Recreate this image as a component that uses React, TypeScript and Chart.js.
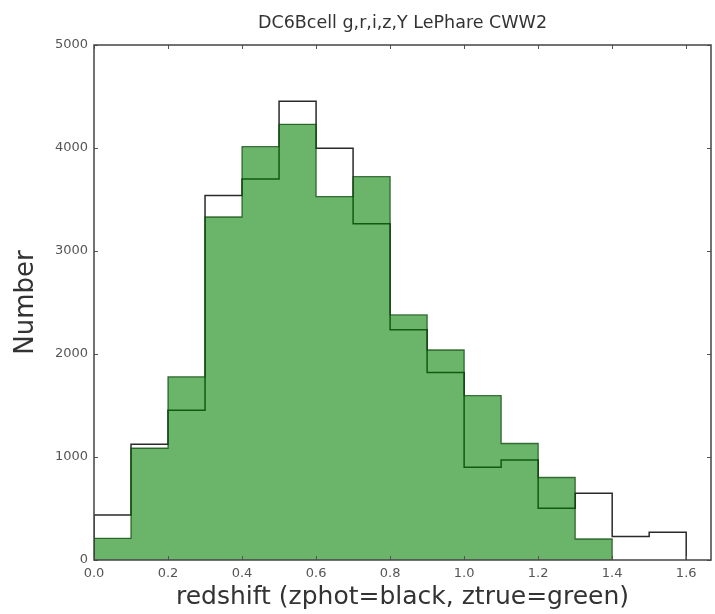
import { useEffect, useRef } from "react";
import { Chart, registerables } from "chart.js";

Chart.register(...registerables);

// Histogram bin edges (redshift) and counts per bin
const binEdges = [0.0, 0.1, 0.2, 0.3, 0.4, 0.5, 0.6, 0.7, 0.8, 0.9, 1.0, 1.1, 1.2, 1.3, 1.4, 1.5, 1.6];
const zphotCounts = [437, 1125, 1455, 3540, 3700, 4455, 3997, 3265, 2235, 1820, 900, 970, 502, 647, 227, 269];
const ztrueCounts = [210, 1085, 1778, 3330, 4013, 4230, 3528, 3722, 2379, 2039, 1595, 1131, 801, 204];

const xTickValues = [0.0, 0.2, 0.4, 0.6, 0.8, 1.0, 1.2, 1.4, 1.6];
const yTickValues = [0, 1000, 2000, 3000, 4000, 5000];
const xMax = 1.667;
const yMax = 5000;

const chartTitle = "DC6Bcell g,r,i,z,Y LePhare CWW2";
const xTitle = "redshift (zphot=black, ztrue=green)";
const yTitle = "Number";

const FONT = '"DejaVu Sans", sans-serif';

// Turn per-bin counts into a closed step outline (matplotlib "step" style)
function stepOutline(counts: number[]) {
  const pts: { x: number; y: number }[] = [{ x: binEdges[0], y: 0 }];
  counts.forEach((c, i) => {
    pts.push({ x: binEdges[i], y: c });
    pts.push({ x: binEdges[i + 1], y: c });
  });
  pts.push({ x: binEdges[counts.length], y: 0 });
  return pts;
}

// Axes frame, inward tick marks on all four sides, and the title centred over the plot
const framePlugin = {
  id: "axesFrame",
  afterDatasetsDraw(chart: any) {
    const { ctx, chartArea: a, scales } = chart;
    const xs = scales.x;
    const ys = scales.y;
    ctx.save();
    ctx.strokeStyle = "#555";
    ctx.lineWidth = 1;
    const len = 4;
    ctx.beginPath();
    xTickValues.forEach((v) => {
      const px = Math.round(xs.getPixelForValue(v)) + 0.5;
      ctx.moveTo(px, a.bottom);
      ctx.lineTo(px, a.bottom - len);
      ctx.moveTo(px, a.top);
      ctx.lineTo(px, a.top + len);
    });
    yTickValues.forEach((v) => {
      const py = Math.round(ys.getPixelForValue(v)) + 0.5;
      ctx.moveTo(a.left, py);
      ctx.lineTo(a.left + len, py);
      ctx.moveTo(a.right, py);
      ctx.lineTo(a.right - len, py);
    });
    ctx.stroke();
    ctx.lineWidth = 1.5;
    ctx.strokeStyle = "#444";
    ctx.strokeRect(a.left, a.top, a.right - a.left, a.bottom - a.top);

    ctx.fillStyle = "#333";
    ctx.font = `17.5px ${FONT}`;
    ctx.textAlign = "center";
    ctx.textBaseline = "middle";
    ctx.fillText(chartTitle, (a.left + a.right) / 2, 23);
    ctx.restore();
  },
};

export default function App() {
  const canvasRef = useRef<HTMLCanvasElement | null>(null);

  useEffect(() => {
    const canvas = canvasRef.current;
    if (!canvas) return;
    const chart = new Chart(canvas, {
      type: "line",
      data: {
        datasets: [
          {
            label: "zphot",
            data: stepOutline(zphotCounts),
            borderColor: "#2a2a2a",
            borderWidth: 1.5,
            pointRadius: 0,
            fill: false,
            tension: 0,
            order: 2,
          },
          {
            label: "ztrue",
            data: stepOutline(ztrueCounts),
            borderColor: "rgba(10,70,10,0.75)",
            borderWidth: 1.3,
            backgroundColor: "rgba(0,128,0,0.58)",
            pointRadius: 0,
            fill: "origin",
            tension: 0,
            order: 1,
          },
        ],
      },
      options: {
        animation: false,
        responsive: false,
        events: [],
        layout: { padding: { top: 45, right: 4, left: 0, bottom: 0 } },
        plugins: {
          legend: { display: false },
          tooltip: { enabled: false },
          title: { display: false },
        },
        scales: {
          x: {
            type: "linear",
            min: 0,
            max: xMax,
            grid: { display: false, drawTicks: false },
            border: { display: false },
            afterBuildTicks: (scale: any) => {
              scale.ticks = xTickValues.map((v) => ({ value: v }));
            },
            afterFit: (scale: any) => {
              scale.height = 54;
            },
            ticks: {
              padding: 6,
              color: "#555",
              font: { family: FONT, size: 13 },
              maxRotation: 0,
              autoSkip: false,
              callback: (v: any) => Number(v).toFixed(1),
            },
            title: {
              display: true,
              text: xTitle,
              color: "#333",
              font: { family: FONT, size: 25 },
              padding: { top: 0, bottom: 2 },
            },
          },
          y: {
            type: "linear",
            min: 0,
            max: yMax,
            grid: { display: false, drawTicks: false },
            border: { display: false },
            afterBuildTicks: (scale: any) => {
              scale.ticks = yTickValues.map((v) => ({ value: v }));
            },
            afterFit: (scale: any) => {
              scale.width = 94;
            },
            ticks: {
              padding: 6,
              color: "#555",
              font: { family: FONT, size: 13 },
              autoSkip: false,
              callback: (v: any) => String(v),
            },
            title: {
              display: true,
              text: yTitle,
              color: "#333",
              font: { family: FONT, size: 26 },
              padding: { top: 11, bottom: 0 },
            },
          },
        },
      },
      plugins: [framePlugin],
    });
    return () => chart.destroy();
  }, []);

  return (
    <div style={{ position: "absolute", left: 0, top: 0, width: 715, height: 614, background: "#fff" }}>
      <canvas ref={canvasRef} width={715} height={614} style={{ display: "block" }} />
    </div>
  );
}
